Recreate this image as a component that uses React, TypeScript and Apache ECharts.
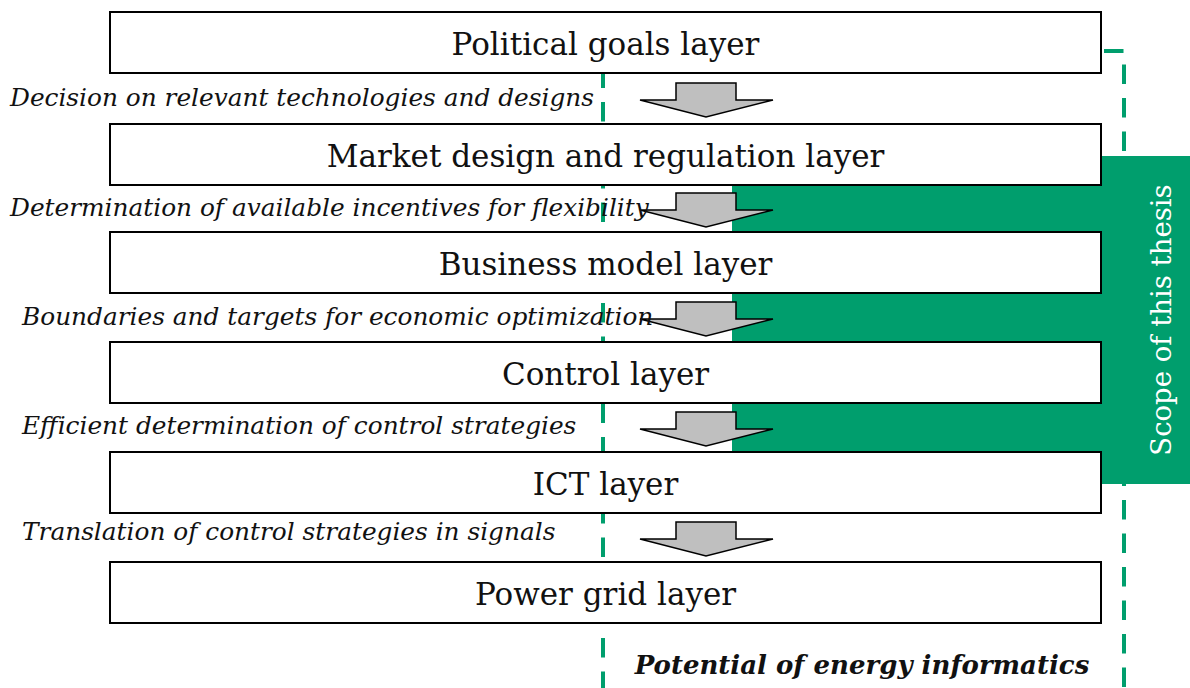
import React, { useEffect, useRef } from "react";
import * as echarts from "echarts";

const layerNames = [
  "Political goals layer",
  "Market design and regulation layer",
  "Business model layer",
  "Control layer",
  "ICT layer",
  "Power grid layer",
];
const layerTops = [12, 124, 232, 342, 452, 562];

const transitionLabels = [
  "Decision on relevant technologies and designs",
  "Determination of available incentives for flexibility",
  "Boundaries and targets for economic optimization",
  "Efficient determination of control strategies",
  "Translation of control strategies in signals",
];
const labelX = [10, 10, 22, 22, 22];
const labelY = [97, 207, 316, 425, 531];
const arrowTops = [83, 193, 302, 412, 522];

const scopeLabel = "Scope of this thesis";
const potentialLabel = "Potential of energy informatics";

const GREEN = "#009E6D";
const SERIF = "'DejaVu Serif', Georgia, serif";

export default function App() {
  const ref = useRef<HTMLDivElement>(null);
  useEffect(() => {
    document.body.style.margin = "0";
    if (!ref.current) return;
    const chart = echarts.init(ref.current, undefined, { renderer: "svg" });
    const g: any[] = [];
    const boxL = 110;
    const boxR = 1101;
    const boxH = 61;

    // dashed lines
    g.push({
      type: "line",
      z: 0,
      shape: { x1: 603, y1: 68.5, x2: 603, y2: 688 },
      style: { stroke: GREEN, lineWidth: 4, lineDash: [19.5, 14] },
    });
    g.push({
      type: "polyline",
      z: 0,
      shape: { points: [[1104, 51], [1124, 51], [1124, 688]] },
      style: { stroke: GREEN, lineWidth: 4, lineDash: [19.5, 14], fill: null },
    });
    // green scope region
    g.push({
      type: "rect",
      z: 1,
      shape: { x: 732, y: 156, width: 1190 - 732, height: 484 - 156 },
      style: { fill: GREEN },
    });
    // boxes
    layerNames.forEach((name, i) => {
      const top = layerTops[i];
      g.push({
        type: "rect",
        z: 2,
        shape: { x: boxL, y: top, width: boxR - boxL, height: boxH },
        style: { fill: "#ffffff", stroke: "#000000", lineWidth: 2 },
      });
      g.push({
        type: "text",
        z: 5,
        x: (boxL + boxR) / 2,
        y: top + boxH / 2 + 1,
        style: {
          text: name,
          fill: "#111111",
          font: `31px ${SERIF}`,
          align: "center",
          verticalAlign: "middle",
        },
      });
    });
    // arrows
    arrowTops.forEach((t) => {
      g.push({
        type: "polygon",
        z: 3,
        shape: {
          points: [
            [676, t],
            [736, t],
            [736, t + 17],
            [773, t + 17],
            [706, t + 34],
            [640, t + 17],
            [676, t + 17],
          ],
        },
        style: { fill: "#BFBFBF", stroke: "#000000", lineWidth: 1.5 },
      });
    });
    // transition labels
    transitionLabels.forEach((txt, i) => {
      g.push({
        type: "text",
        z: 6,
        x: labelX[i],
        y: labelY[i],
        style: {
          text: txt,
          fill: "#111111",
          font: `italic 24.8px ${SERIF}`,
          align: "left",
          verticalAlign: "middle",
        },
      });
    });
    // scope label (vertical)
    g.push({
      type: "text",
      z: 6,
      x: 1161,
      y: 320,
      rotation: Math.PI / 2,
      style: {
        text: scopeLabel,
        fill: "#ffffff",
        font: `27.5px ${SERIF}`,
        align: "center",
        verticalAlign: "middle",
      },
    });
    // potential label
    g.push({
      type: "text",
      z: 6,
      x: 862,
      y: 665,
      style: {
        text: potentialLabel,
        fill: "#111111",
        font: `italic bold 26px ${SERIF}`,
        align: "center",
        verticalAlign: "middle",
      },
    });

    chart.setOption({
      animation: false,
      backgroundColor: "#ffffff",
      graphic: { elements: g },
    });
    return () => chart.dispose();
  }, []);
  return (
    <div
      ref={ref}
      style={{ position: "absolute", left: 0, top: 0, width: 1190, height: 688 }}
    />
  );
}
